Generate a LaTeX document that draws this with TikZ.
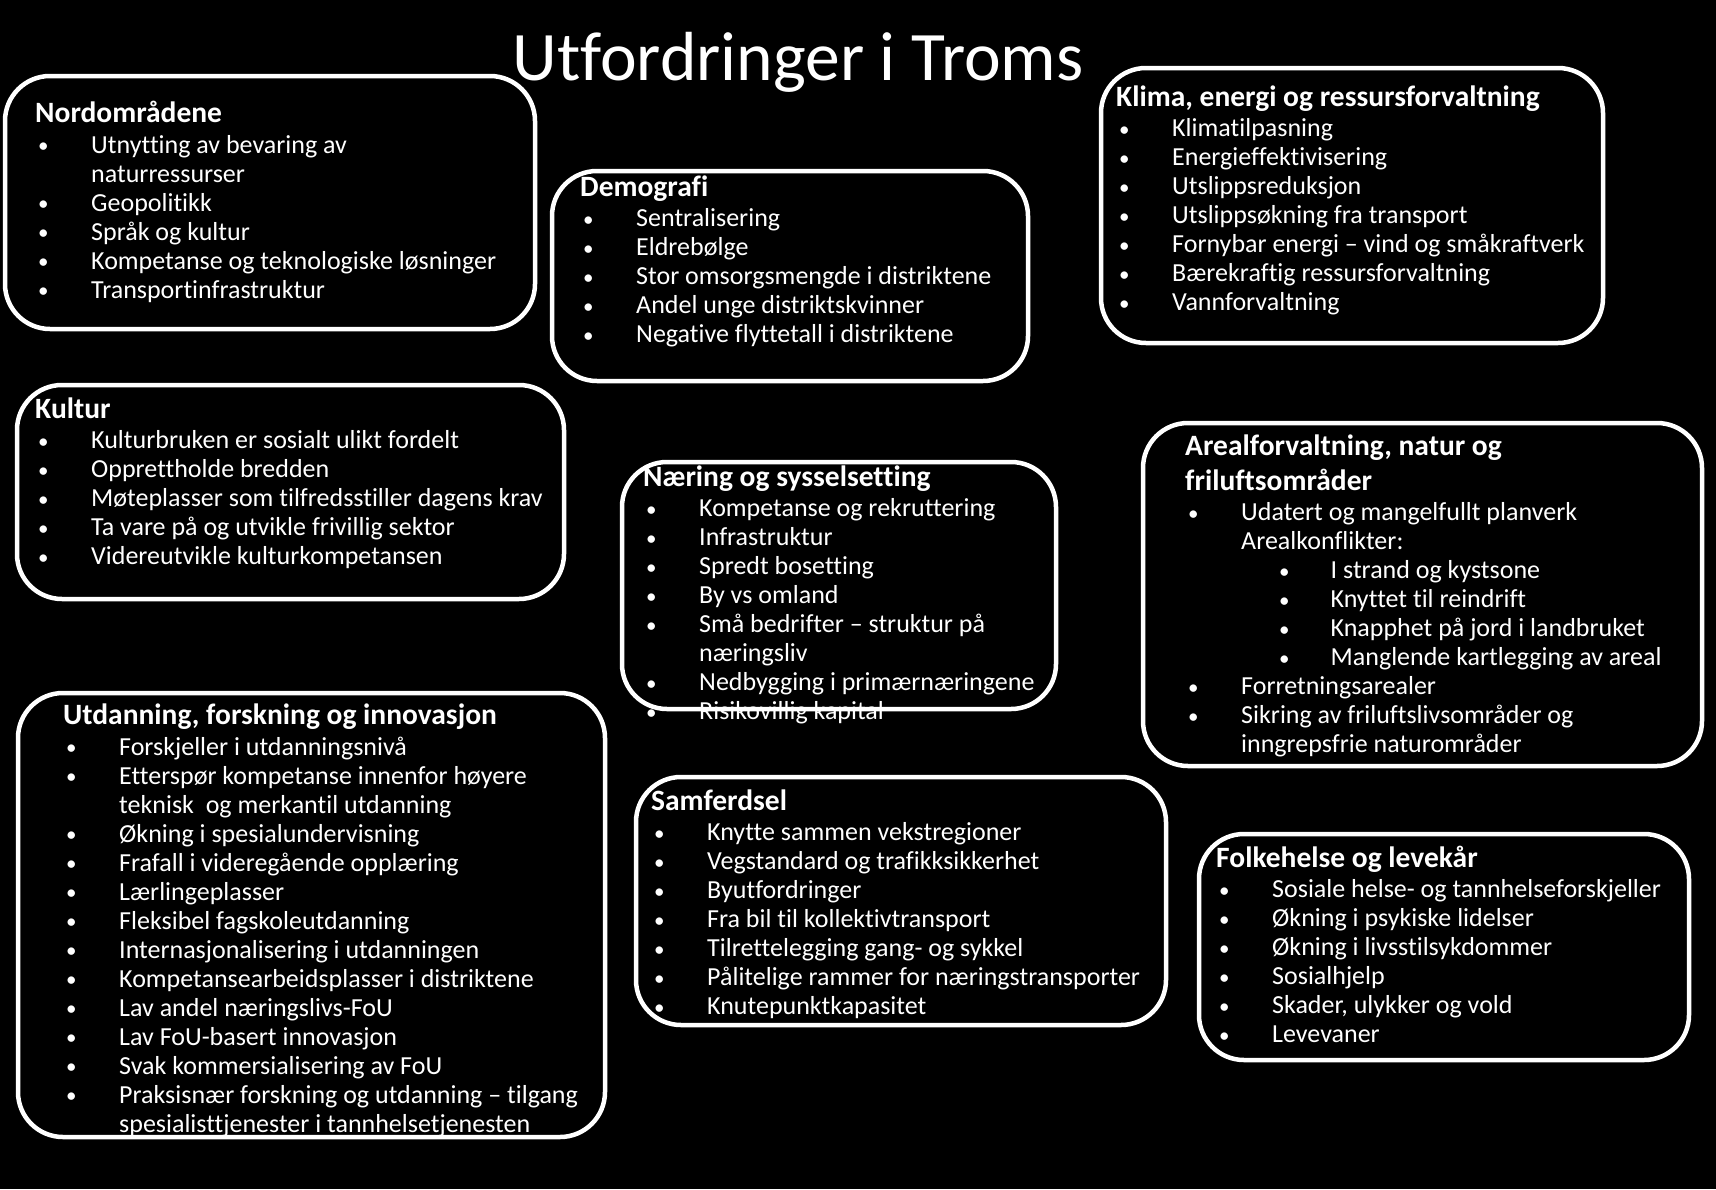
\documentclass[tikz,border=0pt]{standalone}
\usepackage{fontspec}
\setmainfont[Ligatures=NoCommon]{Carlito}
\usepackage{xcolor}
\definecolor{tromsBlack}{RGB}{0, 0, 0}
\definecolor{tromsWhite}{RGB}{255, 255, 255}
\newcommand{\prikk}{\raisebox{0.5pt}{\fontsize{21}{21}\selectfont\textbullet}}
\newcommand{\itm}{\hspace*{3pt}\makebox[53pt][l]{\prikk}}
\newcommand{\subitm}{\hspace*{94pt}\makebox[51.5pt][l]{\prikk}}
\newcommand{\ind}{\hspace*{56pt}}
\newcommand{\overskrift}[1]{{\rule{0pt}{25pt}\fontsize{29.5}{29}\bfseries #1}}
\tikzset{
  boks/.style={draw=tromsWhite, line width=4.5pt, rounded corners=45pt, inner sep=0pt},
  tekst/.style={text=tromsWhite, align=left, anchor=north west, yshift=25pt, inner sep=0pt, font=\fontsize{26}{29}\selectfont},
}

\begin{document}
\begin{tikzpicture}[x=1pt, y=-1pt]
    \fill[tromsBlack] (0,0) rectangle (1716,1189);
    \useasboundingbox (0,0) rectangle (1716,1189);
    \node[text=tromsWhite, anchor=base, inner sep=0pt, font=\fontsize{69.5}{75}\selectfont] (titel) at (798,80) {Utfordringer i Troms};

    \node[boks, minimum width=530pt, minimum height=253pt] (nord) at (270,202.5) {};
    \node[tekst] (nordtekst) at (35,122.6) {\overskrift{Nordområdene}\\[1.6pt]
      \itm Utnytting av bevaring av\\
      \ind naturressurser\\
      \itm Geopolitikk\\
      \itm Språk og kultur\\
      \itm Kompetanse og teknologiske løsninger\\
      \itm Transportinfrastruktur};

    \node[boks, minimum width=476pt, minimum height=210pt] (demografi) at (790,276) {};
    \node[tekst] (demografitekst) at (580,196) {\overskrift{Demografi}\\[1.6pt]
      \itm Sentralisering\\
      \itm Eldrebølge\\
      \itm Stor omsorgsmengde i distriktene\\
      \itm Andel unge distriktskvinner\\
      \itm Negative flyttetall i distriktene};

    \node[boks, minimum width=502pt, minimum height=275pt] (klima) at (1352,205.5) {};
    \node[tekst] (klimatekst) at (1116,106) {\overskrift{Klima, energi og ressursforvaltning}\\[1.6pt]
      \itm Klimatilpasning\\
      \itm Energieffektivisering\\
      \itm Utslippsreduksjon\\
      \itm Utslippsøkning fra transport\\
      \itm Fornybar energi – vind og småkraftverk\\
      \itm Bærekraftig ressursforvaltning\\
      \itm Vannforvaltning};

    \node[boks, minimum width=547pt, minimum height=214pt] (kultur) at (290.5,492) {};
    \node[tekst] (kulturtekst) at (35,418) {\overskrift{Kultur}\\[1.6pt]
      \itm Kulturbruken er sosialt ulikt fordelt\\
      \itm Opprettholde bredden\\
      \itm Møteplasser som tilfredsstiller dagens krav\\
      \itm Ta vare på og utvikle frivillig sektor\\
      \itm Videreutvikle kulturkompetansen};

    \node[boks, minimum width=434pt, minimum height=247pt] (naering) at (839,585.5) {};
    \node[tekst] (naeringtekst) at (643,486) {\overskrift{Næring og sysselsetting}\\[1.6pt]
      \itm Kompetanse og rekruttering\\
      \itm Infrastruktur\\
      \itm Spredt bosetting\\
      \itm By vs omland\\
      \itm Små bedrifter – struktur på\\
      \ind næringsliv\\
      \itm Nedbygging i primærnæringene\\
      \itm Risikovillig kapital};

    \node[boks, minimum width=559pt, minimum height=343pt] (areal) at (1422.5,594.5) {};
    \node[tekst] (arealtekst) at (1185,455) {\overskrift{Arealforvaltning, natur og}\\[3.8pt]
      \overskrift{friluftsområder}\\[1.6pt]
      \itm Udatert og mangelfullt planverk\\
      \ind Arealkonflikter:\\
      \subitm I strand og kystsone\\
      \subitm Knyttet til reindrift\\
      \subitm Knapphet på jord i landbruket\\
      \subitm Manglende kartlegging av areal\\
      \itm Forretningsarealer\\
      \itm Sikring av friluftslivsområder og\\
      \ind inngrepsfrie naturområder};

    \node[boks, minimum width=587pt, minimum height=444pt] (utdanning) at (311.5,915) {};
    \node[tekst] (utdanningtekst) at (63,724.5) {\overskrift{Utdanning, forskning og innovasjon}\\[1.6pt]
      \itm Forskjeller i utdanningsnivå\\
      \itm Etterspør kompetanse innenfor høyere\\
      \ind teknisk\ \ og merkantil utdanning\\
      \itm Økning i spesialundervisning\\
      \itm Frafall i videregående opplæring\\
      \itm Lærlingeplasser\\
      \itm Fleksibel fagskoleutdanning\\
      \itm Internasjonalisering i utdanningen\\
      \itm Kompetansearbeidsplasser i distriktene\\
      \itm Lav andel næringslivs-FoU\\
      \itm Lav FoU-basert innovasjon\\
      \itm Svak kommersialisering av FoU\\
      \itm Praksisnær forskning og utdanning – tilgang\\
      \ind spesialisttjenester i tannhelsetjenesten};

    \node[boks, minimum width=530pt, minimum height=248pt] (samferdsel) at (901,901) {};
    \node[tekst] (samferdseltekst) at (651,810) {\overskrift{Samferdsel}\\[1.6pt]
      \itm Knytte sammen vekstregioner\\
      \itm Vegstandard og trafikksikkerhet\\
      \itm Byutfordringer\\
      \itm Fra bil til kollektivtransport\\
      \itm Tilrettelegging gang- og sykkel\\
      \itm Pålitelige rammer for næringstransporter\\
      \itm Knutepunktkapasitet};

    \node[boks, minimum width=490pt, minimum height=226pt] (folkehelse) at (1444,947) {};
    \node[tekst] (folkehelsetekst) at (1216,867) {\overskrift{Folkehelse og levekår}\\[1.6pt]
      \itm Sosiale helse- og tannhelseforskjeller\\
      \itm Økning i psykiske lidelser\\
      \itm Økning i livsstilsykdommer\\
      \itm Sosialhjelp\\
      \itm Skader, ulykker og vold\\
      \itm Levevaner};
\end{tikzpicture}
\end{document}
